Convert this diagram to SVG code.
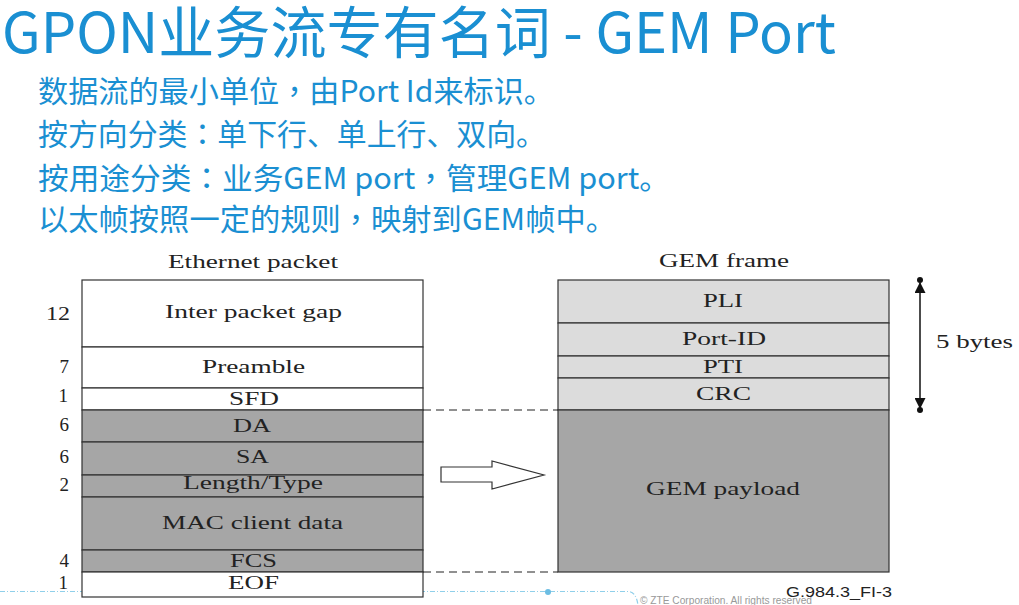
<svg xmlns="http://www.w3.org/2000/svg" width="1019" height="605" viewBox="0 0 1019 605">
<style>
.cn{font-family:"Noto Sans CJK SC","Noto Sans",sans-serif;fill:#1a8fd2}
.pu{font-family:"Noto Sans CJK TC","Noto Sans CJK SC",sans-serif}
.sf{font-family:"Liberation Serif","Times New Roman",serif;font-size:19px;fill:#222}
.num{font-family:"Liberation Serif","Times New Roman",serif;font-size:19px;fill:#222;text-anchor:end}
.w{fill:#fff;stroke:#333;stroke-width:1.2}
.g{fill:#a6a6a6;stroke:#333;stroke-width:1.2}
.l{fill:#dcdcdc;stroke:#333;stroke-width:1.2}
.dash{stroke:#222;stroke-width:1.2;stroke-dasharray:8 5;fill:none}
</style>
<defs>
<marker id="ah" viewBox="0 0 10 10" refX="9" refY="5" markerWidth="15" markerHeight="11" markerUnits="userSpaceOnUse" orient="auto">
<path d="M0,0 L10,5 L0,10 z" fill="#111"/>
</marker>
</defs>
<rect width="1019" height="605" fill="#fff"/>

<g id="title">
<text class="cn" x="2" y="53" font-size="56" textLength="834" lengthAdjust="spacingAndGlyphs">GPON业务流专有名词 - GEM Port</text>
</g>
<g id="bullets">
<text class="cn" x="38" y="102" font-size="30" textLength="516" lengthAdjust="spacingAndGlyphs">数据流的最小单位<tspan class="pu">，</tspan>由Port Id来标识。</text>
<text class="cn" x="38" y="145" font-size="30" textLength="508" lengthAdjust="spacingAndGlyphs">按方向分类<tspan class="pu">：</tspan>单下行、单上行、双向。</text>
<text class="cn" x="38" y="189" font-size="30" textLength="632" lengthAdjust="spacingAndGlyphs">按用途分类<tspan class="pu">：</tspan>业务GEM port<tspan class="pu">，</tspan>管理GEM port。</text>
<text class="cn" x="38" y="230" font-size="30" textLength="578" lengthAdjust="spacingAndGlyphs">以太帧按照一定的规则<tspan class="pu">，</tspan>映射到GEM帧中。</text>
</g>

<g id="footer">
<path d="M0,591.5 H628 Q636,591.5 638,605" fill="none" stroke="#8fcfea" stroke-width="1.2" stroke-dasharray="5 2 1 2"/>
<circle cx="548" cy="592" r="3" fill="#6cbde3"/>
<text x="640" y="604" font-family="Liberation Sans,Arial,sans-serif" font-size="10" fill="#999" textLength="172" lengthAdjust="spacingAndGlyphs">© ZTE Corporation. All rights reserved</text>
<text x="786" y="597" font-family="Liberation Sans,Arial,sans-serif" font-size="15" fill="#222" textLength="106" lengthAdjust="spacingAndGlyphs">G.984.3_FI-3</text>
</g>

<g id="ethernet-packet">
<text class="sf" x="168" y="268" textLength="170" lengthAdjust="spacingAndGlyphs">Ethernet packet</text>
<rect class="w" x="82" y="280" width="341" height="67"/>
<rect class="w" x="82" y="347" width="341" height="41"/>
<rect class="w" x="82" y="388" width="341" height="22"/>
<rect class="g" x="82" y="410" width="341" height="32"/>
<rect class="g" x="82" y="442" width="341" height="33"/>
<rect class="g" x="82" y="475" width="341" height="22"/>
<rect class="g" x="82" y="497" width="341" height="53"/>
<rect class="g" x="82" y="550" width="341" height="22"/>
<rect class="w" x="82" y="572" width="341" height="25"/>
<text class="sf" x="165" y="318" textLength="177" lengthAdjust="spacingAndGlyphs">Inter packet gap</text>
<text class="sf" x="202" y="373" textLength="103" lengthAdjust="spacingAndGlyphs">Preamble</text>
<text class="sf" x="229" y="405" textLength="50" lengthAdjust="spacingAndGlyphs">SFD</text>
<text class="sf" x="233" y="432" textLength="38" lengthAdjust="spacingAndGlyphs">DA</text>
<text class="sf" x="236" y="463" textLength="33" lengthAdjust="spacingAndGlyphs">SA</text>
<text class="sf" x="183" y="489" textLength="140" lengthAdjust="spacingAndGlyphs">Length/Type</text>
<text class="sf" x="162" y="529" textLength="181" lengthAdjust="spacingAndGlyphs">MAC client data</text>
<text class="sf" x="230" y="567" textLength="47" lengthAdjust="spacingAndGlyphs">FCS</text>
<text class="sf" x="228" y="589" textLength="51" lengthAdjust="spacingAndGlyphs">EOF</text>
<text class="num" x="70" y="320" textLength="24" lengthAdjust="spacingAndGlyphs">12</text>
<text class="num" x="69" y="373">7</text>
<text class="num" x="68" y="402">1</text>
<text class="num" x="69" y="431">6</text>
<text class="num" x="69" y="463">6</text>
<text class="num" x="69" y="491">2</text>
<text class="num" x="69" y="567">4</text>
<text class="num" x="68" y="589">1</text>
</g>

<g id="gem-frame">
<text class="sf" x="659" y="267" textLength="130" lengthAdjust="spacingAndGlyphs">GEM frame</text>
<rect class="l" x="558" y="280" width="331" height="43"/>
<rect class="l" x="558" y="323" width="331" height="33"/>
<rect class="l" x="558" y="356" width="331" height="22"/>
<rect class="l" x="558" y="378" width="331" height="32"/>
<rect class="g" x="558" y="410" width="331" height="162"/>
<text class="sf" x="703" y="307" textLength="40" lengthAdjust="spacingAndGlyphs">PLI</text>
<text class="sf" x="682" y="345" textLength="84" lengthAdjust="spacingAndGlyphs">Port-ID</text>
<text class="sf" x="703" y="373" textLength="40" lengthAdjust="spacingAndGlyphs">PTI</text>
<text class="sf" x="696" y="400" textLength="55" lengthAdjust="spacingAndGlyphs">CRC</text>
<text class="sf" x="646" y="495" textLength="154" lengthAdjust="spacingAndGlyphs">GEM payload</text>
</g>

<g id="size-label">
<text class="sf" x="936" y="348" textLength="77" lengthAdjust="spacingAndGlyphs">5 bytes</text>
</g>

<g id="connectors">
<line class="dash" x1="423" y1="410" x2="558" y2="410"/>
<line class="dash" x1="423" y1="572" x2="558" y2="572"/>
<polygon points="441,467 492,467 492,461 544,475 492,489 492,482 441,482" fill="#fff" stroke="#333" stroke-width="1.2"/>
<line x1="920" y1="340" x2="920" y2="283" stroke="#111" stroke-width="1.5" marker-end="url(#ah)"/>
<line x1="920" y1="340" x2="920" y2="408" stroke="#111" stroke-width="1.5" marker-end="url(#ah)"/>
<circle cx="920" cy="280" r="3" fill="#111"/>
<circle cx="920" cy="410" r="3" fill="#111"/>
</g>
</svg>
